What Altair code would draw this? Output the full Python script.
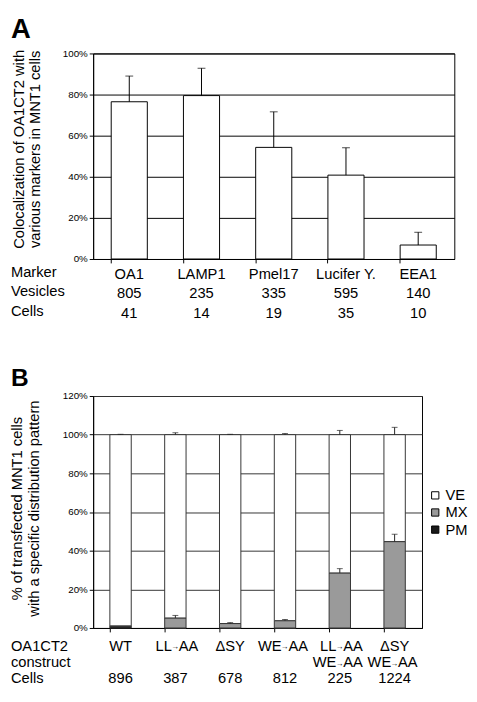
import altair as alt
import pandas as pd

# ---------------- Panel A data ----------------
markers = ["OA1", "LAMP1", "Pmel17", "Lucifer Y.", "EEA1"]
coloc = [76.5, 79.5, 54.3, 40.8, 6.8]
coloc_err = [12.5, 13.3, 17.3, 13.3, 6.2]
vesicles = [805, 235, 335, 595, 140]
cells_a = [41, 14, 19, 35, 10]
titleA = ["Colocalization of OA1CT2 with", "various markers in MNT1 cells"]

# ---------------- Panel B data ----------------
constructs = ["WT", "LL→AA", "ΔSY", "WE→AA", "LL→AA WE→AA", "ΔSY WE→AA"]
line1_single = ["WT", "", "ΔSY", "", "", "ΔSY"]
line1_left = ["", "LL", "", "WE", "LL", ""]
line1_right = ["", "AA", "", "AA", "AA", ""]
line2_left = ["", "", "", "", "WE", "WE"]
line2_right = ["", "", "", "", "AA", "AA"]
pm = [0.8, 0.0, 0.0, 0.0, 0.0, 0.0]
mx = [0.3, 5.2, 2.3, 3.8, 28.5, 44.7]
mx_err = [0.0, 1.3, 0.5, 0.6, 2.2, 3.8]
ve_err = [0.2, 1.0, 0.2, 0.6, 2.2, 3.8]
cells_b = [896, 387, 678, 812, 225, 1224]
patterns = ["VE", "MX", "PM"]
pattern_colors = ["white", "#9a9a9a", "#1a1a1a"]
titleB = ["% of transfected MNT1 cells", "with a specific distribution pattern"]

FS = 15
TICKFS = 10


def row_text(base, xfn, field, ypix, align="center", dx=0, size=FS, dy=0):
    return base.mark_text(fontSize=size, baseline="middle", color="black",
                          align=align, dx=dx, dy=dy).encode(
        x=xfn(), y=alt.value(ypix), text=f"{field}:N")


def label_text(txt, xpix, ypix, size=FS, weight="normal", baseline="middle",
               align="left", angle=0):
    return alt.Chart(alt.Data(values=[{}])).mark_text(
        fontSize=size, fontWeight=weight, align=align, baseline=baseline,
        angle=angle, color="black").encode(
        x=alt.value(xpix), y=alt.value(ypix), text=alt.value(txt))


# ---------------- Panel A ----------------
dfA = pd.DataFrame({"marker": markers, "value": coloc, "err": coloc_err,
                    "vesicles": vesicles, "cells": cells_a})
dfA["top"] = dfA["value"] + dfA["err"]

WA, HA = 369, 210
xA_axis = alt.Axis(labels=False, title=None, bandPosition=0, tickSize=4,
                   tickColor="black", domainColor="black", grid=False)
xA_scale = alt.Scale(paddingInner=0.5, paddingOuter=0.25)
yA_axis = alt.Axis(values=[0, 20, 40, 60, 80, 100], tickCount=6,
                   labelExpr="datum.value + '%'", title=None,
                   labelFontSize=TICKFS, labelColor="black",
                   gridColor="black", gridOpacity=1, tickSize=4,
                   tickColor="black", domainColor="black")
yA_scale = alt.Scale(domain=[0, 100])


def xa():
    return alt.X("marker:N", sort=markers, scale=xA_scale, axis=xA_axis)


def ya(field):
    return alt.Y(f"{field}:Q", scale=yA_scale, axis=yA_axis)


baseA = alt.Chart(dfA)
barsA = baseA.mark_bar(fill="white", stroke="black", strokeWidth=1).encode(
    x=xa(), y=ya("value"))
ruleA = baseA.mark_rule(color="black", strokeWidth=1).encode(
    x=xa(), y=ya("value"), y2="top:Q")
capA = baseA.mark_tick(color="black", thickness=1, size=8).encode(
    x=xa(), y=ya("top"))

panelA = alt.layer(
    barsA, ruleA, capA,
    row_text(baseA, xa, "marker", HA + 15),
    row_text(baseA, xa, "vesicles", HA + 35),
    row_text(baseA, xa, "cells", HA + 55),
    label_text("Marker", -84, HA + 13),
    label_text("Vesicles", -84, HA + 33),
    label_text("Cells", -84, HA + 53),
    label_text(titleA[0], -76, 98, align="center", angle=270),
    label_text(titleA[1], -59, 98, align="center", angle=270),
    label_text("A", -84, -38, size=28, weight="bold", baseline="top"),
).properties(width=WA, height=HA)

# ---------------- Panel B ----------------
rows = []
for i, c in enumerate(constructs):
    rows.append({"construct": c, "pattern": "PM", "ord": 0, "value": pm[i]})
    rows.append({"construct": c, "pattern": "MX", "ord": 1, "value": mx[i]})
    rows.append({"construct": c, "pattern": "VE", "ord": 2,
                 "value": 100 - pm[i] - mx[i]})
dfB = pd.DataFrame(rows)

errB = []
for i, c in enumerate(constructs):
    if mx_err[i] > 0:
        errB.append({"construct": c, "lo": pm[i] + mx[i], "hi": pm[i] + mx[i] + mx_err[i]})
    errB.append({"construct": c, "lo": 100, "hi": 100 + ve_err[i]})
dfErrB = pd.DataFrame(errB)

dfLabB = pd.DataFrame({
    "construct": constructs, "s1": line1_single, "l1": line1_left,
    "r1": line1_right, "l2": line2_left, "r2": line2_right, "cells": cells_b,
    "a1": ["→" if x else "" for x in line1_left],
    "a2": ["→" if x else "" for x in line2_left]})

WB, HB = 336, 237
xB_axis = alt.Axis(labels=False, title=None, bandPosition=0, tickSize=4,
                   tickColor="black", domainColor="black", grid=False)
xB_scale = alt.Scale(paddingInner=0.61, paddingOuter=0.305)
yB_axis = alt.Axis(values=[0, 20, 40, 60, 80, 100, 120], tickCount=7,
                   labelExpr="datum.value + '%'", title=None,
                   labelFontSize=TICKFS, labelColor="black",
                   gridColor="#333333", gridOpacity=1, tickSize=4,
                   tickColor="black", domainColor="black")
yB_scale = alt.Scale(domain=[0, 120])


def xb():
    return alt.X("construct:N", sort=constructs, scale=xB_scale, axis=xB_axis)


def yb(field, stack=None):
    if stack:
        return alt.Y(f"{field}:Q", stack=stack, scale=yB_scale, axis=yB_axis)
    return alt.Y(f"{field}:Q", scale=yB_scale, axis=yB_axis)


baseB = alt.Chart(dfB)
barsB = baseB.mark_bar(stroke="#333333", strokeWidth=1).encode(
    x=xb(), y=yb("value", "zero"),
    color=alt.Color("pattern:N",
                    scale=alt.Scale(domain=patterns, range=pattern_colors),
                    legend=alt.Legend(title=None, orient="none", legendX=342,
                                      legendY=94, symbolType="square",
                                      symbolSize=55, symbolStrokeColor="black",
                                      symbolStrokeWidth=1, labelFontSize=FS,
                                      labelColor="black", rowPadding=1.5,
                                      labelOffset=3, padding=0)),
    order=alt.Order("ord:Q"))
baseE = alt.Chart(dfErrB)
ruleB = baseE.mark_rule(color="#222222").encode(x=xb(), y=yb("lo"), y2="hi:Q")
capB = baseE.mark_tick(color="#222222", thickness=1, size=6).encode(
    x=xb(), y=yb("hi"))

baseL = alt.Chart(dfLabB)
R1, R2, R3 = HB + 18, HB + 35, HB + 51
panelB = alt.layer(
    barsB, ruleB, capB,
    row_text(baseL, xb, "s1", R1),
    row_text(baseL, xb, "l1", R1, align="right", dx=-3.5),
    row_text(baseL, xb, "a1", R1, size=8, dy=1.5),
    row_text(baseL, xb, "r1", R1, align="left", dx=3.5),
    row_text(baseL, xb, "l2", R2, align="right", dx=-3.5),
    row_text(baseL, xb, "a2", R2, size=8, dy=1.5),
    row_text(baseL, xb, "r2", R2, align="left", dx=3.5),
    row_text(baseL, xb, "cells", R3),
    label_text("OA1CT2", -84, R1),
    label_text("construct", -84, R2),
    label_text("Cells", -84, R3),
    label_text(titleB[0], -78, 115, align="center", angle=270),
    label_text(titleB[1], -60, 115, align="center", angle=270),
    label_text("B", -84, -30, size=25, weight="bold", baseline="top"),
).properties(width=WB, height=HB)

chart = alt.vconcat(panelA, panelB, spacing=45).resolve_legend(
    color="independent").properties(
    padding={"left": 1, "top": 0, "right": 0, "bottom": 0}
).configure(font="Liberation Sans", background="white").configure_view(
    stroke="black", strokeWidth=1)

chart.save("out.html", embed_options={"renderer": "svg", "actions": False})
